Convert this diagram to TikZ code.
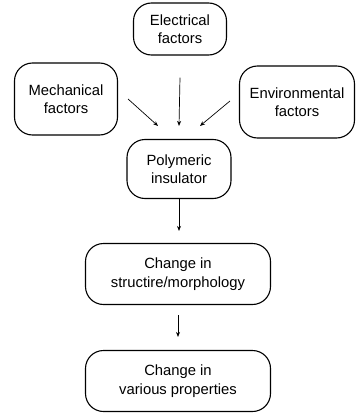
\documentclass[tikz,border=0pt]{standalone}
\usepackage{fontspec}
\setmainfont{Liberation Sans}
\usetikzlibrary{arrows.meta}
\tikzset{
	box/.style={draw, line width=1.1pt, rounded corners=18pt, align=center, inner sep=0pt, font=\fontsize{14.8}{18.5}\selectfont},
	arr/.style={-{Stealth[length=5pt,width=4pt]}, line width=0.7pt}
}
\begin{document}
\begin{tikzpicture}[x=1pt,y=-1pt]
	\useasboundingbox (0,0) rectangle (362,415);
	\node [box, minimum width=93pt, minimum height=52pt] (elec) at (180,29) {Electrical\\factors};
	\node [box, minimum width=103pt, minimum height=72pt] (mech) at (66,99) {Mechanical\\factors};
	\node [box, minimum width=115pt, minimum height=72pt] (env) at (297,102) {Environmental\\factors};
	\node [box, minimum width=104pt, minimum height=59pt] (poly) at (179,169) {Polymeric\\insulator};
	\node [box, minimum width=185pt, minimum height=61pt] (struct) at (178,274) {Change in\\structire/morphology};
	\node [box, minimum width=185pt, minimum height=61pt] (props) at (178,381) {Change in\\various properties};
	\draw [arr] ([xshift=10pt]mech.east) -- ([xshift=-21pt,yshift=13pt]poly.north);
	\draw [arr] ([yshift=-22pt]elec.south) -- ([yshift=13pt]poly.north);
	\draw [arr] ([xshift=-9pt,yshift=1pt]env.west) -- ([xshift=21pt,yshift=13pt]poly.north);
	\draw [arr, shorten >=12pt] (poly.south) -- (poly.south |- struct.north);
	\draw [arr, shorten <=10pt, shorten >=13pt] (struct.south) -- (props.north);
\end{tikzpicture}
\end{document}
